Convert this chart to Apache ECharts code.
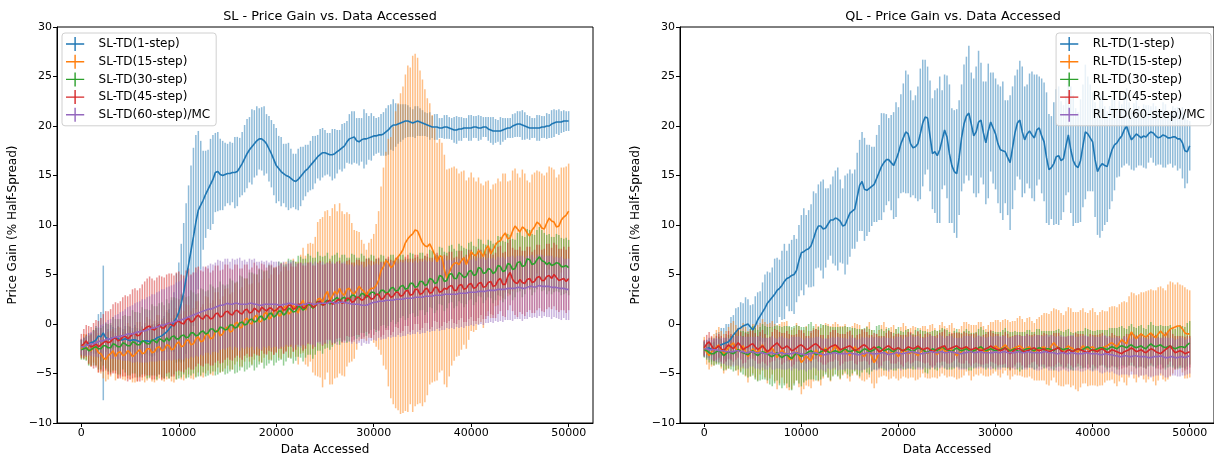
<!DOCTYPE html>
<html>
<head>
<meta charset="utf-8">
<script src="https://cdn.jsdelivr.net/npm/echarts@6/dist/echarts.min.js"></script>
<style>
  html, body { margin: 0; padding: 0; background: #fff; }
  #chart { width: 1214px; height: 461px; }
</style>
</head>
<body>
<div id="chart"></div>
<script>
// Sampling grid: one point every 250 data accesses, 0 .. 50000
const STEP = 250;
const N_POINTS = 201;

// Tick labels
const xTicks = [0, 10000, 20000, 30000, 40000, 50000];
const yTicks = [-10, -5, 0, 5, 10, 15, 20, 25, 30];

// Series names
const slNames = ['SL-TD(1-step)', 'SL-TD(15-step)', 'SL-TD(30-step)', 'SL-TD(45-step)', 'SL-TD(60-step)/MC'];
const rlNames = ['RL-TD(1-step)', 'RL-TD(15-step)', 'RL-TD(30-step)', 'RL-TD(45-step)', 'RL-TD(60-step)/MC'];

// ---- SL panel: mean price gain and error half-widths ----
const slMean1 = [
  -2.4,-2.3,-2.2,-2.0,-1.9,-1.8,-1.6,-1.2,-1.3,-0.9,-1.4,-1.5,-1.5,-1.4,-1.4,-1.5,-1.6,-1.6,-1.5,-1.6,
  -1.7,-1.6,-1.6,-1.7,-1.8,-1.8,-1.7,-1.7,-1.8,-1.7,-1.6,-1.4,-1.3,-1.2,-1.0,-0.8,-0.5,-0.2,0.2,0.6,
  1.2,2.1,3.2,4.6,6.0,7.4,8.8,10.3,11.5,12.0,12.5,13.1,13.6,14.1,14.6,15.3,15.4,15.1,15.0,15.1,
  15.2,15.2,15.3,15.3,15.4,15.8,16.2,16.7,17.2,17.6,17.9,18.2,18.5,18.7,18.7,18.5,18.2,17.7,17.2,16.6,
  16.0,15.7,15.4,15.2,15.0,14.9,14.7,14.5,14.4,14.6,14.9,15.2,15.5,15.7,16.0,16.3,16.6,16.9,17.1,17.3,
  17.3,17.2,17.1,17.1,17.2,17.4,17.6,17.8,18.0,18.4,18.7,18.8,18.9,18.5,18.4,18.6,18.7,18.7,18.8,18.9,
  19.0,19.0,19.1,19.1,19.2,19.4,19.6,19.9,20.1,20.1,20.2,20.3,20.4,20.5,20.5,20.4,20.3,20.4,20.5,20.4,
  20.3,20.2,20.1,20.0,19.9,19.9,19.9,19.8,19.8,19.9,19.9,19.8,19.7,19.6,19.6,19.7,19.7,19.8,19.8,19.8,
  19.8,19.9,19.9,19.8,19.8,19.9,19.9,19.7,19.6,19.5,19.5,19.5,19.5,19.6,19.7,19.8,19.8,20.0,20.1,20.2,
  20.2,20.1,20.0,19.9,19.8,19.8,19.8,19.8,19.8,19.9,19.9,20.0,20.0,20.2,20.3,20.4,20.4,20.4,20.5,20.5,
  20.5];
const slErr1 = [
  0.8,0.9,0.9,1.1,1.0,1.2,1.4,2.2,2.5,6.8,1.4,1.0,1.4,1.1,1.0,1.3,1.2,1.1,1.3,1.4,
  1.4,1.2,1.5,1.3,1.3,1.6,1.4,1.3,1.4,1.6,1.6,1.5,1.5,1.7,1.8,2.0,2.0,2.6,3.0,4.5,
  5.0,6.0,7.0,7.6,8.0,8.6,9.0,8.8,8.0,6.5,5.0,4.4,4.0,4.6,4.5,4.0,4.0,3.6,3.5,3.2,
  3.0,3.2,3.0,3.6,3.5,3.0,3.2,3.4,3.5,3.3,3.8,3.4,3.5,3.1,3.2,3.5,3.0,3.3,3.4,3.6,
  3.8,3.3,3.5,3.0,3.2,3.4,3.0,2.7,2.8,3.1,3.0,2.7,2.6,2.4,2.5,2.7,2.4,2.2,2.6,2.5,
  2.3,2.1,2.2,2.6,2.5,2.2,2.0,2.4,2.3,2.1,2.5,2.7,2.6,2.3,2.4,2.2,3.0,2.6,2.2,2.4,
  2.0,1.8,1.8,2.1,2.2,2.4,2.5,2.3,2.6,2.2,2.0,1.9,1.8,1.7,1.6,1.5,1.4,1.6,1.5,1.4,
  1.3,1.2,1.2,1.4,1.1,1.3,1.3,1.0,1.0,1.2,1.2,1.1,1.1,1.3,1.4,1.2,1.2,1.0,1.0,1.3,
  1.3,1.1,1.1,1.3,1.2,1.0,1.0,1.2,1.3,1.4,1.2,1.1,1.4,1.2,1.1,1.0,1.0,1.2,1.2,1.3,
  1.3,1.5,1.4,1.2,1.2,1.0,1.0,1.3,1.3,1.1,1.1,1.3,1.2,1.4,1.4,1.2,1.3,1.1,1.1,1.0,
  1.0];

const slMean15 = [
  -2.5,-2.2,-2.3,-2.6,-2.7,-2.3,-2.4,-2.9,-3.0,-3.4,-3.6,-3.2,-3.0,-2.7,-3.3,-2.9,-2.8,-3.2,-3.1,-2.7,
  -2.9,-3.3,-3.1,-2.8,-2.6,-3.0,-2.9,-2.5,-2.5,-2.9,-2.8,-2.4,-2.3,-2.7,-2.6,-2.1,-2.2,-2.6,-2.5,-2.0,
  -1.8,-2.3,-2.2,-1.7,-1.6,-2.1,-2.0,-1.5,-1.3,-1.8,-1.7,-1.1,-1.0,-1.5,-1.4,-0.8,-0.6,-1.2,-1.0,-0.5,
  -0.3,-0.8,-0.7,0.0,0.2,-0.4,-0.3,0.4,0.6,0.1,0.0,0.7,0.9,0.2,0.3,1.0,1.2,0.5,0.7,1.3,
  1.5,0.8,0.9,1.6,1.8,1.0,1.2,1.9,1.5,1.1,2.0,2.4,1.4,1.9,2.2,1.6,1.8,2.5,2.6,2.2,
  2.9,3.3,2.4,2.8,3.3,3.0,3.6,3.1,2.9,3.5,3.6,3.2,3.0,3.4,3.8,3.5,3.3,2.9,3.4,3.6,
  3.6,3.9,4.4,5.4,5.8,6.4,6.2,5.7,5.9,6.5,6.8,7.1,7.5,8.2,8.6,8.9,9.1,9.5,9.4,8.8,
  8.2,7.9,7.8,8.1,7.6,7.0,6.3,6.9,6.8,5.5,4.6,5.2,5.8,6.1,6.2,6.0,6.4,6.7,6.0,6.6,
  7.3,7.0,6.9,7.4,7.2,6.8,7.6,7.9,7.1,7.5,8.0,8.3,8.4,8.9,9.2,8.6,8.7,9.4,9.9,9.6,
  9.3,9.8,9.6,9.2,8.9,9.5,9.8,10.3,10.1,9.7,9.6,10.2,10.7,10.4,10.3,9.8,9.9,10.5,10.8,11.0,
  11.4];
const slErr15 = [
  1.0,1.2,1.3,1.5,1.6,1.6,1.8,2.0,2.0,2.1,2.2,2.4,2.3,2.2,2.4,2.6,2.5,2.4,2.6,2.8,
  2.7,2.6,2.8,3.0,2.8,2.7,3.0,3.2,3.0,2.9,3.1,3.3,3.2,3.0,3.2,3.5,3.3,3.2,3.4,3.6,
  3.4,3.3,3.5,3.7,3.5,3.4,3.6,3.8,3.6,3.5,3.7,3.9,3.7,3.6,3.8,4.0,3.8,3.7,3.8,4.0,
  3.9,3.8,3.9,4.1,4.0,3.9,4.0,4.2,4.0,3.9,4.1,4.3,4.1,4.0,4.2,4.4,4.2,4.1,4.3,4.4,
  4.3,4.2,4.4,4.6,4.5,4.4,4.6,4.7,4.8,5.2,5.0,5.3,5.5,6.2,6.0,6.5,7.0,7.8,8.0,8.6,
  8.5,8.2,8.5,8.9,8.8,8.4,8.6,8.3,8.2,7.8,7.5,7.0,6.5,6.0,5.5,5.0,4.8,4.6,4.8,5.0,
  5.5,6.2,7.0,8.5,10.0,11.0,12.5,13.2,14.0,15.0,15.5,16.2,16.5,17.0,17.5,17.0,18.0,17.8,17.5,16.8,
  16.5,15.8,15.0,14.2,13.5,12.8,12.0,11.8,11.5,11.6,11.0,10.5,10.0,9.8,9.5,9.2,9.0,8.8,8.5,8.2,
  8.0,7.8,7.5,7.4,7.0,7.2,6.8,6.6,6.5,6.6,6.2,6.4,6.0,6.3,6.0,5.8,5.8,6.1,5.8,5.6,
  5.5,5.8,5.6,5.3,5.4,5.6,5.5,5.2,5.3,5.5,5.4,5.1,5.2,5.4,5.3,5.0,5.2,5.3,5.0,4.9,
  4.8];

const slMean30 = [
  -2.6,-2.5,-2.4,-2.7,-2.6,-2.4,-2.3,-2.5,-2.5,-2.2,-2.2,-2.4,-2.4,-2.0,-2.1,-2.3,-2.3,-1.9,-2.0,-2.2,
  -2.2,-1.8,-1.9,-2.1,-2.1,-1.7,-1.8,-2.0,-2.0,-1.6,-1.7,-1.9,-1.5,-1.6,-1.8,-1.4,-1.7,-1.3,-1.2,-1.5,
  -1.5,-1.2,-1.1,-1.4,-1.3,-0.9,-0.9,-1.2,-1.1,-0.8,-0.7,-1.0,-0.9,-0.5,-0.5,-0.8,-0.7,-0.3,-0.4,-0.6,
  -0.5,-0.1,-0.1,-0.4,-0.3,0.1,0.2,-0.1,0.0,0.4,0.5,0.2,0.3,0.7,0.8,0.4,0.6,1.0,1.1,0.7,
  0.9,1.3,1.3,0.9,1.1,1.6,1.5,1.2,1.3,1.8,1.7,1.4,1.6,2.0,1.9,1.6,1.8,2.3,2.1,1.9,
  2.2,2.4,2.0,2.3,2.5,2.7,2.3,2.6,2.7,2.4,2.5,2.9,2.9,2.6,2.7,3.1,3.0,2.7,2.9,3.2,
  3.2,2.9,3.0,3.4,3.4,3.1,3.2,3.6,3.7,3.3,3.4,3.8,3.9,3.5,3.6,4.1,4.1,3.7,3.8,4.3,
  4.3,3.9,4.0,4.6,4.5,4.1,4.2,4.9,4.8,4.3,4.4,5.0,5.1,4.6,4.6,5.2,5.0,4.7,4.8,5.3,
  5.4,4.9,5.0,5.7,5.6,5.1,5.2,5.6,5.5,5.1,5.3,5.9,5.8,5.3,5.4,6.1,6.0,5.5,5.6,6.2,
  6.3,5.8,5.9,6.6,6.5,6.0,6.1,6.5,6.8,6.4,6.3,6.0,6.2,5.9,6.0,6.2,6.1,5.8,5.8,5.9,
  5.7];
const slErr30 = [
  1.0,1.1,1.3,1.5,1.6,1.8,1.9,2.1,2.1,2.0,2.3,2.4,2.5,2.7,2.6,2.8,2.8,2.7,2.9,3.0,
  3.0,3.2,3.1,3.3,3.2,3.4,3.3,3.5,3.4,3.6,3.5,3.7,3.6,3.8,3.7,3.9,3.8,4.0,3.9,4.1,
  4.0,4.2,4.0,4.1,4.1,4.3,4.1,4.2,4.2,4.4,4.2,4.3,4.3,4.5,4.3,4.4,4.4,4.6,4.4,4.5,
  4.5,4.7,4.5,4.6,4.6,4.8,4.6,4.7,4.6,4.8,4.7,4.9,4.7,4.8,4.7,4.9,4.8,5.0,4.8,4.9,
  4.8,5.0,4.9,5.1,4.9,5.0,5.0,5.2,5.0,5.1,5.1,5.2,5.0,5.1,5.0,5.1,4.9,5.0,4.8,4.9,
  4.7,4.8,4.6,4.6,4.5,4.5,4.4,4.4,4.3,4.3,4.2,4.2,4.1,4.1,4.0,4.0,3.9,3.9,3.8,3.8,
  3.7,3.7,3.6,3.6,3.5,3.5,3.4,3.4,3.3,3.3,3.2,3.2,3.1,3.1,3.0,3.1,3.0,3.0,3.0,2.9,
  2.9,3.0,2.8,2.9,2.9,3.0,2.8,2.9,2.9,3.0,2.8,2.9,2.9,3.0,2.8,2.9,2.9,3.0,2.8,2.9,
  2.9,3.0,2.8,2.9,2.9,3.0,2.8,2.9,2.9,3.0,2.9,3.0,3.0,3.1,2.9,3.0,3.0,3.1,2.9,3.0,
  3.0,3.1,2.9,3.0,3.0,3.1,2.9,3.0,3.0,3.1,2.9,3.0,2.9,2.9,2.8,2.9,2.9,2.9,2.8,2.8,
  2.8];

const slMean45 = [
  -2.2,-2.0,-1.7,-2.1,-2.3,-2.2,-2.0,-2.3,-2.1,-1.9,-1.7,-1.9,-1.8,-1.5,-1.4,-1.7,-1.6,-1.3,-1.2,-1.5,
  -1.3,-1.0,-0.9,-1.2,-1.1,-0.7,-0.5,-0.3,-0.2,-0.5,-0.6,-0.3,-0.1,-0.4,-0.4,0.0,0.1,-0.1,-0.2,0.2,
  0.3,0.1,0.0,0.4,0.6,0.2,0.3,0.7,0.9,0.6,0.5,0.9,0.8,0.5,0.6,1.0,1.1,0.7,0.8,1.2,
  1.3,1.0,0.9,1.3,1.4,1.1,1.0,1.4,1.5,1.1,1.2,1.6,1.4,1.2,1.7,1.5,1.3,1.6,1.6,1.3,
  1.4,1.7,1.8,1.4,1.5,1.9,1.9,1.5,1.6,2.0,2.0,1.6,1.7,2.1,2.1,1.7,1.8,2.2,2.3,1.9,
  2.0,2.3,2.4,2.0,2.1,2.4,2.5,2.1,2.2,2.6,2.6,2.2,2.3,2.7,2.7,2.4,2.5,2.9,2.8,2.5,
  2.6,3.0,3.0,2.5,2.6,3.0,3.1,2.7,2.8,3.2,3.2,2.8,2.9,3.3,3.4,2.9,3.0,3.5,3.5,3.0,
  3.1,3.5,3.6,3.1,3.2,3.7,3.7,3.2,3.3,3.6,3.5,3.8,3.9,3.4,3.4,3.9,4.0,3.5,3.6,4.0,
  4.1,3.6,3.7,4.1,4.2,3.7,3.8,4.2,4.3,3.8,3.9,4.4,4.6,4.0,4.0,4.8,5.2,4.5,4.2,4.1,
  4.5,4.2,4.1,4.5,4.6,4.2,4.3,4.7,4.8,4.4,4.4,4.8,4.9,4.6,5.0,4.7,4.4,4.5,4.6,4.3,
  4.6];
const slErr45 = [
  1.2,1.5,1.6,1.9,2.0,2.3,2.4,2.6,2.7,2.9,3.0,3.2,3.3,3.5,3.6,3.8,3.9,4.0,4.1,4.3,
  4.3,4.5,4.5,4.6,4.7,4.7,4.8,4.9,5.0,5.1,5.0,5.0,5.0,5.2,5.1,5.0,5.0,5.2,5.1,5.0,
  5.0,4.9,4.9,5.0,5.0,4.8,4.9,5.0,4.9,4.8,4.8,4.9,4.8,4.7,4.8,4.9,4.8,4.7,4.7,4.8,
  4.7,4.6,4.6,4.7,4.6,4.5,4.6,4.6,4.5,4.4,4.5,4.6,4.5,4.4,4.4,4.5,4.4,4.3,4.4,4.4,
  4.3,4.2,4.3,4.4,4.3,4.2,4.2,4.3,4.2,4.1,4.2,4.3,4.2,4.1,4.1,4.2,4.1,4.0,4.1,4.1,
  4.0,3.9,4.0,4.1,4.0,3.9,3.9,4.0,3.9,3.8,3.9,4.0,3.9,3.8,3.8,3.9,3.8,3.7,3.8,3.9,
  3.7,3.6,3.7,3.8,3.7,3.6,3.7,3.8,3.6,3.5,3.6,3.7,3.6,3.5,3.6,3.7,3.6,3.5,3.5,3.6,
  3.5,3.4,3.5,3.6,3.5,3.4,3.5,3.6,3.5,3.4,3.4,3.5,3.4,3.3,3.4,3.5,3.4,3.3,3.4,3.5,
  3.4,3.3,3.4,3.5,3.3,3.2,3.3,3.4,3.3,3.2,3.3,3.4,3.3,3.2,3.3,3.4,3.3,3.2,3.3,3.4,
  3.3,3.2,3.3,3.3,3.2,3.1,3.2,3.3,3.2,3.1,3.2,3.3,3.2,3.1,3.2,3.3,3.2,3.1,3.2,3.2,
  3.2];

const slMean60 = [
  -2.3,-2.3,-2.2,-2.1,-2.0,-2.0,-1.9,-1.8,-1.7,-1.7,-1.6,-1.5,-1.5,-1.4,-1.3,-1.3,-1.2,-1.2,-1.1,-1.0,
  -1.0,-1.0,-0.9,-0.8,-0.8,-0.7,-0.7,-0.6,-0.5,-0.4,-0.4,-0.3,-0.2,-0.1,-0.1,0.0,0.1,0.1,0.2,0.3,
  0.4,0.4,0.5,0.6,0.7,0.8,0.9,1.0,1.1,1.2,1.3,1.4,1.5,1.5,1.6,1.7,1.8,1.9,1.9,2.0,
  2.1,2.0,2.0,2.1,2.1,2.0,2.0,2.0,2.0,2.1,2.1,2.0,2.0,1.9,1.9,2.0,2.0,2.0,2.0,2.0,
  2.0,1.9,1.9,2.0,2.0,2.1,2.1,2.0,2.0,1.9,1.9,2.0,2.0,2.1,2.1,2.0,2.0,2.1,2.1,2.1,
  2.1,2.1,2.2,2.2,2.1,2.1,2.2,2.2,2.2,2.1,2.1,2.0,2.0,2.0,2.0,1.9,1.9,1.9,2.0,2.1,
  2.2,2.2,2.3,2.3,2.3,2.4,2.4,2.4,2.4,2.5,2.5,2.5,2.5,2.6,2.6,2.6,2.6,2.7,2.7,2.7,
  2.7,2.8,2.8,2.8,2.8,2.9,2.9,2.9,2.9,3.0,3.0,3.0,3.0,3.0,3.0,3.1,3.1,3.1,3.1,3.2,
  3.2,3.2,3.2,3.3,3.3,3.3,3.3,3.4,3.4,3.4,3.4,3.5,3.5,3.5,3.5,3.6,3.6,3.6,3.6,3.7,
  3.7,3.6,3.6,3.7,3.8,3.8,3.7,3.8,3.9,3.8,3.8,3.8,3.8,3.7,3.7,3.7,3.6,3.6,3.6,3.5,
  3.5];
const slErr60 = [
  0.8,0.9,1.0,1.1,1.2,1.3,1.4,1.5,1.6,1.7,1.8,1.9,2.0,2.1,2.2,2.3,2.4,2.5,2.6,2.7,
  2.8,2.9,3.0,3.0,3.1,3.2,3.2,3.3,3.3,3.4,3.4,3.5,3.5,3.6,3.6,3.7,3.7,3.8,3.8,3.9,
  3.9,4.0,4.1,4.0,4.2,4.1,4.3,4.2,4.4,4.3,4.5,4.3,4.4,4.6,4.4,4.5,4.7,4.5,4.4,4.6,
  4.5,4.3,4.6,4.4,4.5,4.7,4.4,4.5,4.3,4.5,4.4,4.6,4.3,4.4,4.5,4.3,4.4,4.2,4.4,4.3,
  4.3,4.4,4.2,4.3,4.1,4.3,4.2,4.4,4.1,4.2,4.3,4.1,4.2,4.0,4.2,4.1,4.3,4.0,4.1,4.2,
  4.0,4.1,3.9,4.1,4.0,4.2,3.9,4.0,4.1,3.9,3.9,4.0,3.8,4.0,3.9,4.1,3.8,3.9,4.0,3.8,
  3.8,3.9,3.7,3.9,3.8,3.9,3.7,3.8,3.7,3.8,3.6,3.8,3.7,3.8,3.6,3.7,3.6,3.7,3.5,3.7,
  3.6,3.7,3.5,3.6,3.5,3.6,3.4,3.6,3.5,3.6,3.4,3.5,3.4,3.5,3.3,3.5,3.4,3.5,3.3,3.4,
  3.3,3.4,3.2,3.4,3.3,3.4,3.2,3.3,3.2,3.3,3.1,3.3,3.2,3.3,3.1,3.2,3.2,3.3,3.1,3.2,
  3.2,3.3,3.1,3.2,3.1,3.2,3.0,3.2,3.1,3.2,3.0,3.1,3.1,3.2,3.0,3.1,3.1,3.2,3.0,3.1,
  3.1];

// ---- QL panel: mean price gain and error half-widths ----
const rlMean1 = [
  -2.5,-2.5,-2.4,-2.6,-2.6,-2.4,-2.2,-2.1,-2.0,-1.9,-1.8,-1.5,-1.1,-0.8,-0.5,-0.4,-0.2,-0.1,0.0,-0.3,
  -0.6,-0.2,0.4,0.8,1.2,1.6,2.1,2.4,2.7,3.0,3.4,3.6,3.9,4.3,4.6,4.7,4.9,5.0,5.4,6.4,
  7.2,7.3,7.5,7.6,7.9,8.6,9.4,9.9,9.9,9.6,9.7,10.1,10.5,10.5,10.7,10.6,10.4,9.9,10.0,10.6,
  11.2,11.4,11.6,12.8,14.0,14.4,13.6,13.5,13.7,13.9,14.1,14.7,15.3,15.9,16.3,16.6,16.6,16.3,16.0,16.6,
  17.3,18.2,18.8,19.4,19.2,18.2,17.8,17.9,18.2,19.2,20.3,20.9,20.8,19.0,17.2,17.4,17.0,17.6,18.6,19.6,
  18.9,17.2,16.0,15.4,15.2,16.8,18.8,20.2,21.0,21.3,20.2,19.0,19.4,20.4,20.6,19.3,18.3,19.5,20.4,19.8,
  19.2,18.2,17.6,17.5,17.4,16.8,16.3,17.8,19.3,20.3,20.6,19.4,18.6,19.2,19.5,19.1,18.8,19.6,19.8,19.0,
  18.4,16.8,15.6,15.8,16.2,16.9,17.0,16.5,16.7,18.0,19.1,17.6,16.5,16.0,15.8,16.5,18.0,19.4,19.2,18.8,
  18.4,16.6,15.4,15.9,16.2,16.0,15.9,16.8,17.6,18.1,18.3,18.7,19.0,19.6,20.0,19.2,18.6,18.9,19.2,19.0,
  18.8,19.0,18.9,19.2,19.4,19.3,19.0,18.8,18.9,19.1,19.0,18.8,18.8,18.9,18.9,18.7,18.7,18.3,17.5,17.4,
  18.0];
const rlErr1 = [
  0.8,0.9,1.0,1.2,1.2,1.5,1.4,1.7,1.6,1.9,1.8,2.2,2.0,2.4,2.2,2.6,2.3,2.8,2.5,2.2,
  2.6,3.0,2.8,2.5,3.0,3.4,3.2,2.8,3.0,3.6,3.3,2.9,3.5,3.8,2.8,3.4,3.6,4.0,3.2,3.6,
  3.8,4.4,3.5,3.9,4.2,4.8,3.8,4.2,4.5,5.0,4.0,3.6,3.6,4.4,4.8,5.2,4.2,3.8,5.0,4.6,
  4.4,3.8,4.0,4.5,4.6,5.0,5.2,4.6,4.4,4.0,3.8,4.4,4.8,5.4,5.0,4.6,4.2,4.8,5.4,5.8,
  4.6,5.0,5.5,6.2,6.0,5.4,4.8,5.2,5.8,6.6,6.4,5.8,5.2,5.6,5.6,6.2,6.8,7.4,5.0,5.6,
  6.2,7.0,5.8,6.2,6.5,5.8,5.4,6.0,6.0,6.8,5.2,5.8,6.6,7.2,5.8,5.2,6.2,6.8,5.0,5.6,
  5.6,6.0,6.4,7.0,5.2,5.8,6.8,6.2,5.8,5.4,6.0,6.6,5.4,5.0,5.8,6.4,6.4,5.6,5.2,5.8,
  6.0,6.6,5.6,5.2,6.2,6.8,7.0,6.0,5.4,5.0,5.8,6.4,6.6,5.8,5.6,6.2,6.2,6.8,5.8,5.4,
  5.0,5.8,6.4,7.2,6.8,6.0,5.6,5.2,5.2,4.6,3.5,3.8,3.2,3.6,3.8,3.2,3.0,3.4,3.4,3.0,
  2.8,3.2,3.2,2.9,2.6,3.0,3.0,2.7,2.8,3.3,3.2,2.7,2.6,3.1,2.9,3.2,3.0,3.6,3.8,3.2,
  2.5];

const rlMean15 = [
  -2.3,-2.9,-3.2,-2.8,-2.6,-2.3,-2.1,-2.6,-3.0,-2.7,-2.4,-2.1,-1.9,-2.4,-2.8,-2.5,-2.2,-2.8,-3.3,-2.9,
  -2.5,-2.7,-2.9,-2.5,-2.1,-2.6,-3.0,-2.7,-2.4,-2.9,-3.4,-3.0,-2.6,-2.9,-3.1,-3.5,-3.6,-3.2,-2.8,-3.3,
  -3.9,-3.6,-3.2,-3.5,-3.7,-3.1,-2.6,-3.0,-3.3,-2.8,-2.4,-2.7,-3.0,-2.6,-2.2,-2.6,-2.9,-2.7,-2.5,-2.9,
  -3.2,-2.7,-2.3,-2.6,-2.8,-3.1,-3.3,-2.9,-2.6,-3.3,-3.9,-3.5,-3.0,-2.7,-2.5,-2.8,-3.1,-2.9,-2.7,-3.0,
  -3.3,-2.9,-2.6,-2.8,-3.0,-2.9,-2.8,-3.0,-3.2,-2.9,-2.6,-2.8,-3.0,-2.8,-2.7,-2.9,-3.1,-2.7,-2.4,-2.7,
  -2.9,-2.7,-2.6,-2.9,-3.2,-3.0,-2.8,-2.5,-2.3,-2.6,-2.9,-2.7,-2.6,-2.5,-2.4,-2.7,-2.9,-2.7,-2.5,-2.4,
  -2.2,-2.4,-2.6,-2.3,-2.1,-2.4,-2.7,-2.5,-2.4,-2.3,-2.2,-2.4,-2.6,-2.4,-2.3,-2.6,-2.8,-2.6,-2.5,-2.4,
  -2.3,-2.5,-2.6,-2.2,-1.9,-2.2,-2.4,-2.6,-2.7,-2.4,-2.2,-2.4,-2.5,-2.7,-2.8,-2.5,-2.2,-2.4,-2.6,-2.4,
  -2.3,-2.5,-2.7,-2.5,-2.4,-2.3,-2.2,-2.0,-1.9,-2.1,-2.3,-1.9,-1.6,-1.8,-2.0,-1.3,-0.8,-1.2,-1.5,-1.2,
  -1.0,-1.2,-1.3,-1.1,-0.9,-1.2,-1.4,-1.0,-0.7,-1.0,-1.2,-0.8,-0.5,-0.4,-0.3,-0.2,-0.2,-0.5,-0.9,-1.0,
  -1.0];
const rlErr15 = [
  1.0,1.2,1.4,1.5,1.6,1.7,1.8,1.9,2.0,2.0,2.1,2.2,2.2,2.3,2.4,2.3,2.3,2.5,2.6,2.4,
  2.5,2.7,2.8,2.6,2.6,2.8,3.0,2.8,2.7,2.9,3.2,3.0,2.8,3.1,3.4,3.2,3.0,2.8,2.9,3.1,
  3.2,3.0,3.0,2.8,2.8,2.7,2.6,2.8,2.9,2.7,2.5,2.7,2.8,2.6,2.4,2.6,2.7,2.5,2.5,2.6,
  2.6,2.5,2.4,2.6,2.7,2.6,2.5,2.7,2.8,2.7,2.6,2.5,2.4,2.6,2.7,2.5,2.5,2.6,2.6,2.5,
  2.4,2.6,2.7,2.6,2.5,2.5,2.6,2.7,2.4,2.5,2.4,2.6,2.5,2.7,2.7,2.5,2.4,2.6,2.6,2.5,
  2.5,2.6,2.7,2.5,2.4,2.5,2.6,2.7,2.5,2.6,2.8,2.6,2.5,2.7,2.6,2.5,2.4,2.6,2.7,2.6,
  2.6,2.8,2.8,2.7,2.6,2.8,2.9,2.8,2.7,2.9,3.0,2.9,2.8,3.0,3.0,2.9,2.9,3.1,3.2,3.3,
  3.4,3.6,3.6,3.5,3.5,3.7,3.8,3.7,3.6,3.7,3.9,4.0,3.7,3.9,4.0,3.9,3.8,3.6,3.7,3.8,
  3.9,3.7,3.6,3.7,3.8,3.6,3.5,3.7,3.7,3.9,4.0,3.9,3.8,4.1,4.2,4.1,4.0,4.3,4.4,4.2,
  4.2,4.4,4.6,4.5,4.4,4.6,4.8,4.7,4.5,4.6,4.6,4.8,4.8,4.6,4.3,4.4,4.2,4.4,4.6,4.5,
  4.4];

const rlMean30 = [
  -2.6,-2.7,-2.9,-3.0,-3.0,-2.8,-2.7,-2.9,-3.2,-3.0,-2.8,-2.9,-3.0,-2.8,-2.6,-2.8,-2.9,-3.0,-3.1,-2.9,
  -2.7,-3.0,-3.2,-3.0,-2.8,-2.9,-3.0,-3.2,-3.3,-3.1,-2.9,-3.2,-3.4,-3.2,-3.1,-3.3,-3.5,-3.2,-2.9,-3.1,
  -3.3,-3.1,-3.0,-2.8,-2.7,-2.9,-3.1,-3.0,-2.8,-2.7,-2.6,-2.8,-3.0,-2.8,-2.7,-2.8,-2.9,-2.7,-2.5,-2.7,
  -2.8,-2.7,-2.6,-2.8,-2.9,-2.7,-2.5,-2.6,-2.8,-2.7,-2.6,-2.4,-2.3,-2.5,-2.7,-2.6,-2.5,-2.7,-2.8,-2.6,
  -2.4,-2.6,-2.7,-2.6,-2.5,-2.7,-2.8,-2.6,-2.4,-2.5,-2.6,-2.8,-2.9,-2.7,-2.5,-2.6,-2.7,-2.5,-2.3,-2.5,
  -2.6,-2.7,-2.8,-2.6,-2.4,-2.6,-2.7,-2.6,-2.5,-2.7,-2.8,-2.7,-2.6,-2.4,-2.3,-2.5,-2.7,-2.6,-2.5,-2.6,
  -2.7,-2.6,-2.6,-2.5,-2.4,-2.6,-2.7,-2.6,-2.5,-2.7,-2.8,-2.7,-2.6,-2.5,-2.5,-2.6,-2.7,-2.5,-2.4,-2.5,
  -2.6,-2.5,-2.5,-2.6,-2.7,-2.5,-2.4,-2.5,-2.6,-2.5,-2.5,-2.7,-2.8,-2.6,-2.5,-2.6,-2.6,-2.4,-2.3,-2.5,
  -2.7,-2.6,-2.5,-2.4,-2.4,-2.5,-2.6,-2.4,-2.3,-2.4,-2.5,-2.3,-2.2,-2.3,-2.4,-2.2,-2.1,-2.3,-2.4,-2.3,
  -2.2,-2.4,-2.5,-2.2,-2.0,-2.2,-2.3,-2.2,-2.1,-2.3,-2.4,-2.3,-2.2,-2.4,-2.5,-2.4,-2.3,-2.3,-2.4,-2.1,
  -1.9];
const rlErr30 = [
  0.8,0.9,1.0,1.1,1.2,1.3,1.4,1.4,1.5,1.6,1.7,1.7,1.8,1.9,2.0,2.1,2.2,2.2,2.3,2.4,
  2.5,2.6,2.6,2.7,2.8,2.7,2.7,2.9,3.0,2.9,2.8,3.0,3.1,3.0,2.9,3.1,3.2,3.0,2.8,2.9,
  3.0,2.8,2.7,2.8,2.9,2.7,2.6,2.7,2.8,2.6,2.5,2.6,2.7,2.5,2.4,2.5,2.6,2.4,2.3,2.4,
  2.5,2.3,2.2,2.3,2.4,2.2,2.1,2.3,2.3,2.1,2.0,2.2,2.2,2.0,2.0,2.1,2.1,1.9,1.9,2.1,
  2.1,1.9,1.9,2.0,2.0,1.8,1.8,2.0,2.0,1.9,1.9,2.1,2.1,1.9,1.8,2.0,2.0,1.9,1.9,2.0,
  2.0,1.9,1.8,1.9,1.9,1.8,1.8,1.9,2.0,2.0,1.9,1.8,1.8,1.9,2.0,1.9,1.9,1.8,1.8,1.9,
  1.9,1.8,1.8,1.9,2.0,1.9,1.9,1.8,1.8,1.9,2.0,1.9,1.8,1.9,1.9,1.8,1.9,2.0,1.9,1.8,
  1.9,1.8,1.8,1.9,2.0,1.9,1.9,1.8,1.8,1.9,2.0,1.9,1.9,1.8,1.8,1.9,1.9,2.0,1.8,1.9,
  2.0,1.9,1.9,1.8,1.8,1.9,2.0,2.0,1.9,2.0,2.1,2.0,2.0,1.9,1.9,2.0,2.1,2.0,2.0,2.1,
  2.1,2.0,2.0,2.1,2.2,2.1,2.1,2.0,2.0,2.1,2.2,2.1,2.1,2.0,2.0,2.1,2.2,2.1,2.1,2.2,
  2.2];

const rlMean45 = [
  -2.4,-2.0,-1.8,-2.2,-2.6,-2.4,-2.2,-2.5,-2.7,-2.4,-2.1,-2.3,-2.5,-2.2,-1.9,-2.2,-2.6,-2.4,-2.3,-2.1,
  -2.0,-2.3,-2.6,-2.4,-2.2,-2.5,-2.8,-2.6,-2.3,-2.1,-1.9,-2.2,-2.5,-2.4,-2.2,-2.4,-2.7,-2.6,-2.4,-2.2,
  -2.1,-2.3,-2.6,-2.5,-2.3,-2.1,-2.0,-2.2,-2.5,-2.6,-2.8,-2.5,-2.3,-2.2,-2.1,-2.3,-2.6,-2.5,-2.4,-2.3,
  -2.2,-2.4,-2.7,-2.6,-2.4,-2.2,-2.1,-2.3,-2.6,-2.5,-2.3,-2.5,-2.8,-2.7,-2.5,-2.3,-2.2,-2.4,-2.6,-2.5,
  -2.4,-2.6,-2.7,-2.5,-2.3,-2.4,-2.5,-2.4,-2.2,-2.4,-2.6,-2.5,-2.4,-2.6,-2.8,-2.7,-2.5,-2.4,-2.3,-2.2,
  -2.6,-2.5,-2.4,-2.3,-2.2,-2.4,-2.5,-2.4,-2.3,-2.5,-2.6,-2.5,-2.4,-2.6,-2.7,-2.6,-2.5,-2.4,-2.2,-2.4,
  -2.5,-2.6,-2.7,-2.6,-2.4,-2.7,-3.0,-2.8,-2.6,-2.5,-2.5,-2.7,-2.8,-2.7,-2.6,-2.5,-2.4,-2.6,-2.7,-2.6,
  -2.5,-2.7,-2.8,-2.7,-2.6,-2.5,-2.4,-2.7,-2.9,-2.8,-2.6,-2.7,-2.8,-2.6,-2.5,-2.6,-2.7,-2.8,-2.9,-2.7,
  -2.6,-2.7,-2.8,-2.6,-2.5,-2.7,-2.9,-2.8,-2.6,-2.7,-2.8,-2.9,-3.0,-2.8,-2.7,-2.6,-2.4,-2.6,-2.8,-2.7,
  -2.6,-2.8,-2.9,-2.7,-2.5,-2.6,-2.8,-2.9,-3.0,-2.8,-2.6,-2.4,-2.2,-2.6,-2.9,-2.8,-2.7,-2.8,-3.0,-2.9,
  -2.8];
const rlErr45 = [
  0.8,0.9,1.0,1.0,1.1,1.2,1.2,1.3,1.3,1.4,1.4,1.3,1.3,1.4,1.5,1.4,1.4,1.5,1.3,1.4,
  1.5,1.4,1.4,1.6,1.6,1.5,1.4,1.3,1.5,1.6,1.3,1.4,1.6,1.5,1.5,1.4,1.6,1.5,1.4,1.6,
  1.5,1.4,1.4,1.3,1.6,1.5,1.5,1.6,1.4,1.5,1.3,1.4,1.5,1.6,1.5,1.4,1.6,1.5,1.4,1.5,
  1.5,1.3,1.3,1.5,1.4,1.6,1.6,1.5,1.5,1.4,1.4,1.5,1.6,1.5,1.3,1.4,1.5,1.6,1.4,1.5,
  1.4,1.5,1.6,1.4,1.5,1.6,1.4,1.3,1.5,1.4,1.3,1.5,1.5,1.6,1.6,1.5,1.4,1.5,1.5,1.6,
  1.4,1.5,1.5,1.4,1.3,1.5,1.5,1.6,1.4,1.5,1.6,1.5,1.5,1.4,1.4,1.5,1.5,1.6,1.6,1.5,
  1.5,1.6,1.4,1.5,1.6,1.7,1.7,1.6,1.5,1.4,1.4,1.5,1.6,1.7,1.5,1.4,1.4,1.5,1.6,1.5,
  1.6,1.7,1.5,1.6,1.7,1.6,1.5,1.4,1.6,1.5,1.4,1.5,1.6,1.7,1.5,1.6,1.7,1.6,1.6,1.7,
  1.5,1.6,1.7,1.6,1.6,1.5,1.5,1.6,1.7,1.6,1.6,1.7,1.5,1.6,1.7,1.6,1.5,1.6,1.7,1.6,
  1.7,1.6,1.6,1.5,1.5,1.6,1.7,1.6,1.6,1.7,1.8,1.7,1.6,1.6,1.7,1.6,1.5,1.6,1.7,1.7,
  1.6];

const rlMean60 = [
  -2.5,-2.5,-2.6,-2.6,-2.6,-2.6,-2.7,-2.7,-2.7,-2.8,-2.8,-2.8,-2.8,-2.7,-2.7,-2.8,-2.8,-2.9,-2.9,-2.8,
  -2.8,-2.9,-2.9,-2.9,-2.9,-3.0,-3.0,-2.9,-2.9,-3.0,-3.0,-2.9,-2.9,-3.0,-3.0,-3.0,-3.0,-2.9,-2.9,-3.0,
  -3.0,-3.1,-3.1,-3.0,-3.0,-2.9,-2.9,-3.0,-3.0,-3.1,-3.1,-3.0,-3.0,-2.9,-2.9,-3.0,-3.0,-3.0,-3.0,-3.0,
  -2.9,-3.0,-3.0,-3.1,-3.1,-3.0,-3.0,-2.9,-2.9,-3.0,-3.0,-3.0,-3.0,-2.9,-2.9,-3.0,-3.1,-3.0,-3.0,-2.9,
  -2.9,-3.0,-3.0,-2.9,-2.9,-2.8,-2.8,-2.9,-2.9,-3.0,-3.0,-2.9,-2.9,-2.8,-2.8,-2.9,-2.9,-2.8,-2.8,-2.9,
  -2.9,-2.8,-2.8,-2.9,-2.9,-3.0,-3.0,-2.9,-2.9,-2.8,-2.8,-2.9,-2.9,-2.8,-2.8,-2.9,-2.9,-2.9,-2.9,-2.9,
  -2.8,-2.9,-2.9,-2.8,-2.8,-2.9,-2.9,-2.9,-2.9,-2.8,-2.8,-2.9,-2.9,-2.8,-2.8,-2.9,-2.9,-2.9,-2.9,-2.9,
  -2.8,-2.8,-2.9,-2.9,-2.9,-3.0,-3.0,-2.9,-2.9,-3.0,-3.0,-2.9,-2.9,-3.0,-3.0,-3.0,-3.0,-2.9,-2.9,-3.0,
  -3.0,-3.0,-3.0,-3.1,-3.1,-3.0,-3.0,-3.1,-3.1,-3.2,-3.2,-3.3,-3.3,-3.2,-3.2,-3.3,-3.3,-3.2,-3.2,-3.3,
  -3.3,-3.3,-3.3,-3.4,-3.4,-3.3,-3.3,-3.3,-3.2,-3.3,-3.4,-3.4,-3.3,-3.3,-3.4,-3.4,-3.3,-3.3,-3.4,-3.3,
  -3.2];
const rlErr60 = [
  0.8,0.9,1.0,1.0,1.1,1.2,1.2,1.3,1.3,1.4,1.4,1.4,1.5,1.5,1.5,1.6,1.5,1.6,1.6,1.5,
  1.5,1.6,1.6,1.7,1.5,1.6,1.6,1.5,1.7,1.6,1.5,1.6,1.7,1.6,1.6,1.5,1.7,1.6,1.6,1.7,
  1.6,1.5,1.7,1.6,1.6,1.5,1.6,1.7,1.6,1.6,1.7,1.5,1.6,1.6,1.5,1.7,1.6,1.6,1.6,1.5,
  1.7,1.6,1.6,1.5,1.6,1.7,1.6,1.6,1.5,1.7,1.6,1.7,1.6,1.5,1.6,1.6,1.7,1.6,1.5,1.6,
  1.6,1.7,1.5,1.6,1.6,1.7,1.5,1.6,1.7,1.6,1.6,1.5,1.6,1.7,1.6,1.6,1.5,1.7,1.6,1.5,
  1.7,1.6,1.6,1.5,1.5,1.6,1.6,1.7,1.7,1.6,1.6,1.5,1.6,1.7,1.6,1.6,1.5,1.6,1.7,1.6,
  1.6,1.7,1.7,1.6,1.6,1.5,1.5,1.6,1.7,1.7,1.6,1.7,1.7,1.8,1.6,1.6,1.7,1.8,1.8,1.7,
  1.6,1.7,1.8,1.8,1.7,1.7,1.8,1.8,1.7,1.7,1.8,1.8,1.8,1.7,1.7,1.8,1.8,1.8,1.7,1.7,
  1.8,1.7,1.7,1.8,1.9,1.9,1.8,1.8,1.7,1.8,1.9,1.9,1.8,1.9,1.9,1.9,1.8,1.9,1.9,2.0,
  1.9,1.9,1.8,1.9,2.0,2.0,1.9,1.9,1.8,1.9,2.0,2.0,1.9,1.9,1.8,1.9,2.0,1.9,1.8,1.8,
  1.8];

const slMeans = [slMean1, slMean15, slMean30, slMean45, slMean60];
const slErrs  = [slErr1, slErr15, slErr30, slErr45, slErr60];
const rlMeans = [rlMean1, rlMean15, rlMean30, rlMean45, rlMean60];
const rlErrs  = [rlErr1, rlErr15, rlErr30, rlErr45, rlErr60];

// matplotlib "tab10" cycle
const palette = ['#1f77b4', '#ff7f0e', '#2ca02c', '#d62728', '#9467bd'];
const FONT = 'DejaVu Sans';
const accessed = Array.from({ length: N_POINTS }, (_, i) => i * STEP);

// Vertical error bar drawn through the axis scale
function errorBar(color) {
  return function (params, api) {
    const x = api.value(0), y = api.value(1), e = api.value(2);
    const lo = api.coord([x, y - e]);
    const hi = api.coord([x, y + e]);
    return {
      type: 'line',
      shape: { x1: lo[0], y1: lo[1], x2: hi[0], y2: hi[1] },
      style: { stroke: color, lineWidth: 1.5, opacity: 0.5 }
    };
  };
}

// Bars of every series sit below the mean lines of every series
function buildSeries(names, means, errs, axisIndex) {
  const bars = [], lines = [];
  names.forEach((name, k) => {
    bars.push({
      type: 'custom',
      name: name + ' bars',
      xAxisIndex: axisIndex, yAxisIndex: axisIndex,
      renderItem: errorBar(palette[k]),
      data: accessed.map((x, i) => [x, means[k][i], errs[k][i]]),
      encode: { x: 0, y: 1 },
      clip: true, silent: true, animation: false,
      z: 2
    });
    lines.push({
      type: 'line',
      name: name,
      xAxisIndex: axisIndex, yAxisIndex: axisIndex,
      data: accessed.map((x, i) => [x, means[k][i]]),
      showSymbol: false, symbol: 'none',
      lineStyle: { color: palette[k], width: 1.6 },
      itemStyle: { color: palette[k] },
      clip: true, silent: true, animation: false,
      z: 3
    });
  });
  return bars.concat(lines);
}

const minus = v => (v < 0 ? '\u2212' + Math.abs(v) : String(v));

function xAxis(gridIndex) {
  return {
    type: 'value', gridIndex: gridIndex, min: -2500, max: 52500,
    name: 'Data Accessed', nameLocation: 'middle', nameGap: 21,
    nameTextStyle: { fontFamily: FONT, fontSize: 12, color: '#000' },
    axisLine: { onZero: false, lineStyle: { color: '#000', width: 1 } },
    axisTick: { show: true, inside: false, length: 4, customValues: xTicks, lineStyle: { color: '#000' } },
    axisLabel: { customValues: xTicks, fontFamily: FONT, fontSize: 11, color: '#000', margin: 5,
                 formatter: v => String(v) },
    splitLine: { show: false }
  };
}

function yAxis(gridIndex) {
  return {
    type: 'value', gridIndex: gridIndex, min: -10, max: 30, interval: 5,
    name: 'Price Gain (% Half-Spread)', nameLocation: 'middle', nameGap: 38,
    nameTextStyle: { fontFamily: FONT, fontSize: 12, color: '#000' },
    axisLine: { onZero: false, lineStyle: { color: '#000', width: 1 } },
    axisTick: { show: true, inside: false, length: 4, lineStyle: { color: '#000' } },
    axisLabel: { fontFamily: FONT, fontSize: 11, color: '#000', margin: 5, formatter: minus },
    splitLine: { show: false }
  };
}

// legend handle: horizontal line crossed by a vertical error bar
const handle = 'path://M0,9L26,9L26,11L0,11Z M12,0L14,0L14,20L12,20Z';

function legend(names, pos) {
  return Object.assign({
    orient: 'vertical',
    data: names.map(n => ({ name: n, icon: handle })),
    itemWidth: 27, itemHeight: 14, itemGap: 3.7,
    textStyle: { fontFamily: FONT, fontSize: 12, color: '#000', padding: [0, 0, 0, 5] },
    backgroundColor: 'rgba(255,255,255,0.8)',
    borderColor: '#d0d0d0', borderWidth: 1, borderRadius: 3,
    padding: [4, 6, 4, 4],
    selectedMode: false
  }, pos);
}

const chart = echarts.init(document.getElementById('chart'), null, { renderer: 'canvas' });
chart.setOption({
  animation: false,
  backgroundColor: '#fff',
  title: [
    { text: 'SL - Price Gain vs. Data Accessed', left: 325, top: 5, textAlign: 'center',
      textStyle: { fontFamily: FONT, fontSize: 12.8, fontWeight: 'normal', color: '#000' } },
    { text: 'QL - Price Gain vs. Data Accessed', left: 948, top: 5, textAlign: 'center',
      textStyle: { fontFamily: FONT, fontSize: 12.8, fontWeight: 'normal', color: '#000' } }
  ],
  grid: [
    { left: 57, top: 27, width: 536, height: 400, show: true, borderColor: '#000', borderWidth: 1 },
    { left: 680, top: 27, width: 536, height: 400, show: true, borderColor: '#000', borderWidth: 1 }
  ],
  xAxis: [xAxis(0), xAxis(1)],
  yAxis: [yAxis(0), yAxis(1)],
  legend: [
    legend(slNames, { left: 62, top: 33 }),
    legend(rlNames, { right: 3, top: 33 })
  ],
  series: buildSeries(slNames, slMeans, slErrs, 0).concat(buildSeries(rlNames, rlMeans, rlErrs, 1))
});
</script>
</body>
</html>
